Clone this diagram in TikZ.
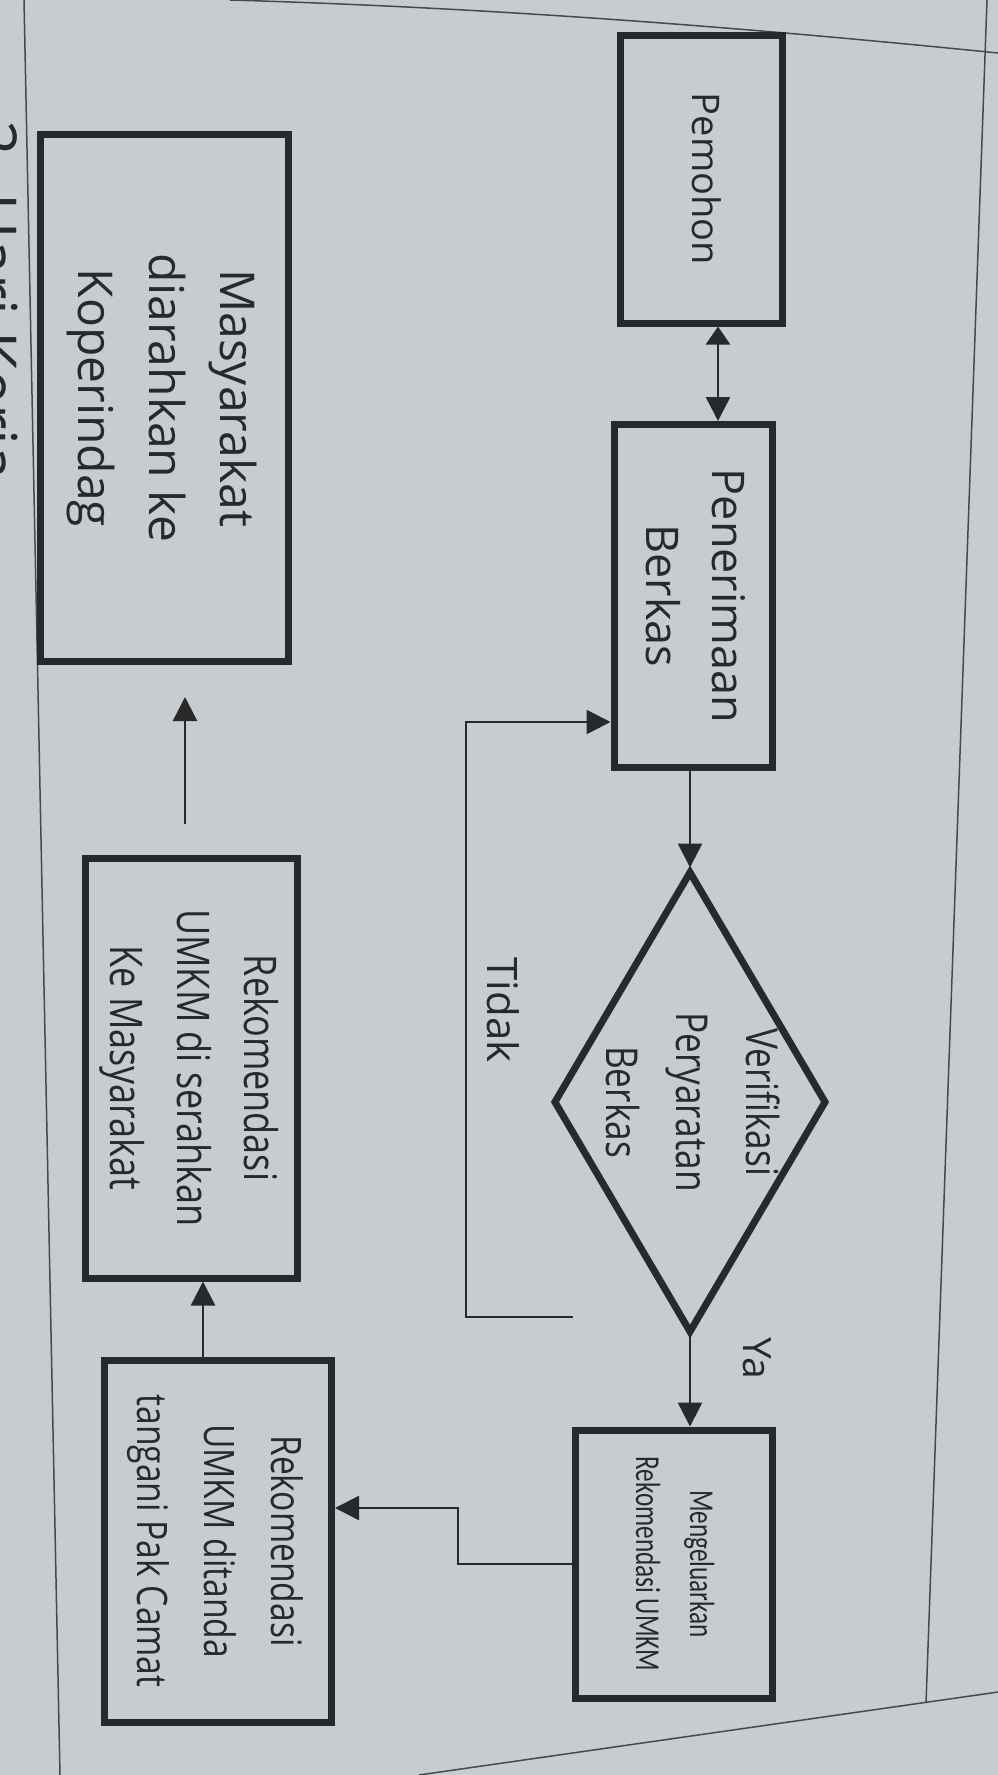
\documentclass[tikz,border=0pt]{standalone}
\usepackage{graphicx}
\usepackage{fontspec}
\setmainfont{Open Sans}
\newfontfamily\narrowsans[FakeStretch=0.8]{Open Sans}
\newfontfamily\narrowcal[FakeStretch=0.72]{Carlito}
\usetikzlibrary{arrows.meta,shapes.geometric}
\definecolor{paper}{RGB}{201,204,206}
\definecolor{ink}{RGB}{40,41,43}
\newcommand{\vtxt}[2]{\rotatebox{-90}{#1\begin{tabular}{@{}c@{}}#2\end{tabular}}}

\begin{document}
\begin{tikzpicture}[x=1pt,y=-1pt,
  box/.style={draw=ink,line width=7pt,inner sep=0pt,text=ink},
  arr/.style={draw=ink,line width=2.5pt,-{Triangle[width=24pt,length=24pt]}},
  dblarr/.style={draw=ink,line width=2.5pt,{Triangle[width=24pt,length=18pt]}-{Triangle[width=24pt,length=24pt]}},
  frame/.style={draw=ink!85,line width=1.5pt}]
\useasboundingbox (0,0) rectangle (998,1775);
\fill [paper] (0,0) rectangle (998,1775);
\clip (0,0) rectangle (998,1775);
% page lines
\draw [frame] (24,0) -- (60,1775);
\draw [frame] (987,0) -- (926,1703);
\draw [frame] (230,0) .. controls (500,8) and (750,28) .. (998,53);
\draw [frame] (419,1775) -- (998,1692);
\node [anchor=east,inner sep=0pt,text=ink] (hariKerja) at (18,300) {\vtxt{\fontsize{62pt}{62pt}\selectfont}{2. Hari Kerja}};

\begin{scope}[every node/.style={box}]
\node [minimum width=162pt,minimum height=288pt] (pemohon) at (701,179) {\vtxt{\fontsize{38pt}{44pt}\selectfont}{Pemohon}};
\node [minimum width=158pt,minimum height=343pt] (terima) at (693,596) {\vtxt{\fontsize{45pt}{66pt}\selectfont}{Penerimaan\\Berkas}};
\node [minimum width=248pt,minimum height=527pt] (masy) at (164,398) {\vtxt{\fontsize{48pt}{71pt}\selectfont}{Masyarakat\\diarahkan ke\\Koperindag}};
\node [diamond,minimum width=273pt,minimum height=462pt] (verif) at (690,1102) {};
\node [minimum width=197pt,minimum height=268pt] (keluar) at (674,1564) {\vtxt{\narrowcal\fontsize{35pt}{54pt}\selectfont}{Mengeluarkan\\Rekomendasi UMKM}};
\node [minimum width=212pt,minimum height=420pt] (serah) at (191,1068) {\vtxt{\narrowsans\fontsize{45pt}{67pt}\selectfont}{Rekomendasi\\UMKM di serahkan\\Ke Masyarakat}};
\node [minimum width=227pt,minimum height=362pt] (ttd) at (218,1541) {\vtxt{\narrowsans\fontsize{42pt}{67pt}\selectfont}{Rekomendasi\\UMKM ditanda\\tangani Pak Camat}};
\end{scope}
\node [text=ink] (verifTxt) at (verif) {\vtxt{\narrowsans\fontsize{44pt}{70pt}\selectfont}{Verifikasi\\Peryaratan\\Berkas}};
\node [text=ink] (tidak) at (497,1010) {\vtxt{\fontsize{42pt}{42pt}\selectfont}{Tidak}};
\node [text=ink] (ya) at (752,1358) {\vtxt{\fontsize{39pt}{39pt}\selectfont}{Ya}};

\coordinate (tidakStart) at (573,1317);
\coordinate (tidakBend) at (466,1317);

\draw [dblarr] ([xshift=17pt]pemohon.south) -- ([xshift=17pt]pemohon.south |- terima.north);
\draw [arr] (terima.south -| verif.north) -- (verif.north);
\draw [arr] (verif.south) -- (verif.south |- keluar.north);
\draw [arr] (tidakStart) -- (tidakBend) |- ([yshift=-126pt]terima.west);
\draw [arr] (keluar.west) -- ++(-114,0) |- ([yshift=33pt]ttd.east);
\draw [arr] ([xshift=-15pt]ttd.north) -- ([xshift=-15pt]ttd.north |- serah.south);
\draw [arr,shorten <=31pt,shorten >=32pt] ([xshift=-6pt]serah.north) -- ([xshift=-6pt]serah.north |- masy.south);
\end{tikzpicture}
\end{document}
